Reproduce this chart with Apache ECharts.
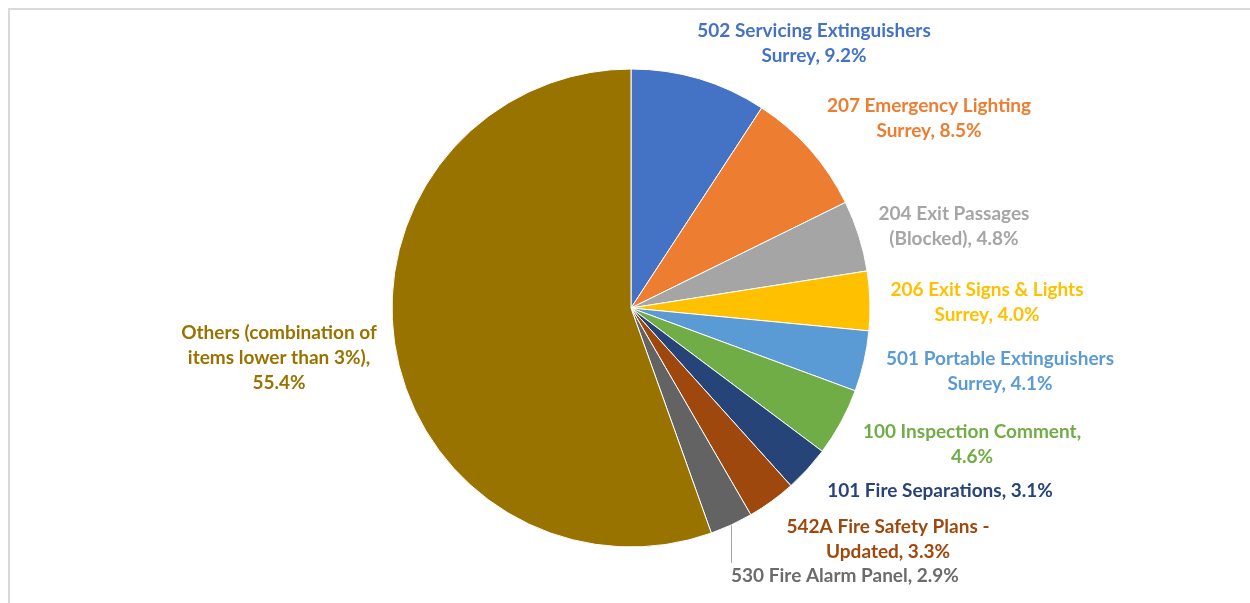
<!DOCTYPE html>
<html>
<head>
<meta charset="utf-8">
<script src="https://cdn.jsdelivr.net/npm/echarts@6/dist/echarts.min.js"></script>
<style>
html,body{margin:0;padding:0;background:#fff;}
#chart{width:1250px;height:603px;}
</style>
</head>
<body>
<div id="chart"></div>
<script>
// ---- data ----
const CATEGORIES = [
  '502 Servicing Extinguishers\nSurrey',
  '207 Emergency Lighting\nSurrey',
  '204 Exit Passages\n(Blocked)',
  '206 Exit Signs & Lights\nSurrey',
  '501 Portable Extinguishers\nSurrey',
  '100 Inspection Comment',
  '101 Fire Separations',
  '542A Fire Safety Plans -\nUpdated',
  '530 Fire Alarm Panel',
  'Others (combination of\nitems lower than 3%)'
];
const VALUES = [9.2, 8.5, 4.8, 4.0, 4.1, 4.6, 3.1, 3.3, 2.9, 55.4];

// ---- styles / layout ----
const COLORS = ['#4472C4', '#ED7D31', '#A5A5A5', '#FFC000', '#5B9BD5', '#70AD47', '#264478', '#9E480E', '#636363', '#997300'];
const LABEL_COLORS = ['#4472C4', '#ED7D31', '#A5A5A5', '#FFC000', '#5B9BD5', '#70AD47', '#264478', '#9E480E', '#6b6b6b', '#997300'];
const VALUE_ON_NEW_LINE = [false, false, false, false, false, true, false, false, false, true];
const LABEL_POS = [[814, 43], [929, 118], [954, 226], [987, 302], [1000, 371], [972, 444], [940, 491], [888, 539], [845, 576], [279, 358]];
const SHOW_LINE = [false, false, false, false, false, false, false, false, true, false];

const chart = echarts.init(document.getElementById('chart'), null, {renderer: 'canvas'});

const data = CATEGORIES.map((name, i) => ({
  name: name,
  value: VALUES[i],
  itemStyle: {color: COLORS[i]},
  label: {color: LABEL_COLORS[i]},
  labelLine: {show: SHOW_LINE[i], lineStyle: {color: '#a6a6a6', width: 1}}
}));

chart.setOption({
  animation: false,
  backgroundColor: '#ffffff',
  graphic: [
    {type: 'line', shape: {x1: 8, y1: 9, x2: 1250, y2: 9}, style: {stroke: '#d9d9d9', lineWidth: 2}, silent: true},
    {type: 'line', shape: {x1: 9, y1: 8, x2: 9, y2: 603}, style: {stroke: '#d9d9d9', lineWidth: 2}, silent: true}
  ],
  series: [{
    type: 'pie',
    center: [631, 308],
    radius: [0, 239],
    startAngle: 90,
    clockwise: true,
    avoidLabelOverlap: false,
    itemStyle: {borderColor: '#ffffff', borderWidth: 1},
    label: {
      show: true,
      position: 'outside',
      fontFamily: 'Lato',
      fontWeight: 'bold',
      fontSize: 19,
      lineHeight: 25,
      align: 'center',
      formatter: p => p.name + (VALUE_ON_NEW_LINE[p.dataIndex] ? ',\n' : ', ') + p.value.toFixed(1) + '%'
    },
    labelLine: {show: false, length: 10, length2: 10},
    labelLayout: function (params) {
      const i = params.dataIndex;
      const pos = LABEL_POS[i];
      const res = {x: pos[0], y: pos[1], align: 'center', verticalAlign: 'middle'};
      if (SHOW_LINE[i] && params.labelLinePoints) {
        const s = params.labelLinePoints[0];
        res.labelLinePoints = [[s[0], s[1]], [s[0], s[1] + 18], [s[0], pos[1] - 13]];
      }
      return res;
    },
    data: data
  }]
});
</script>
</body>
</html>
